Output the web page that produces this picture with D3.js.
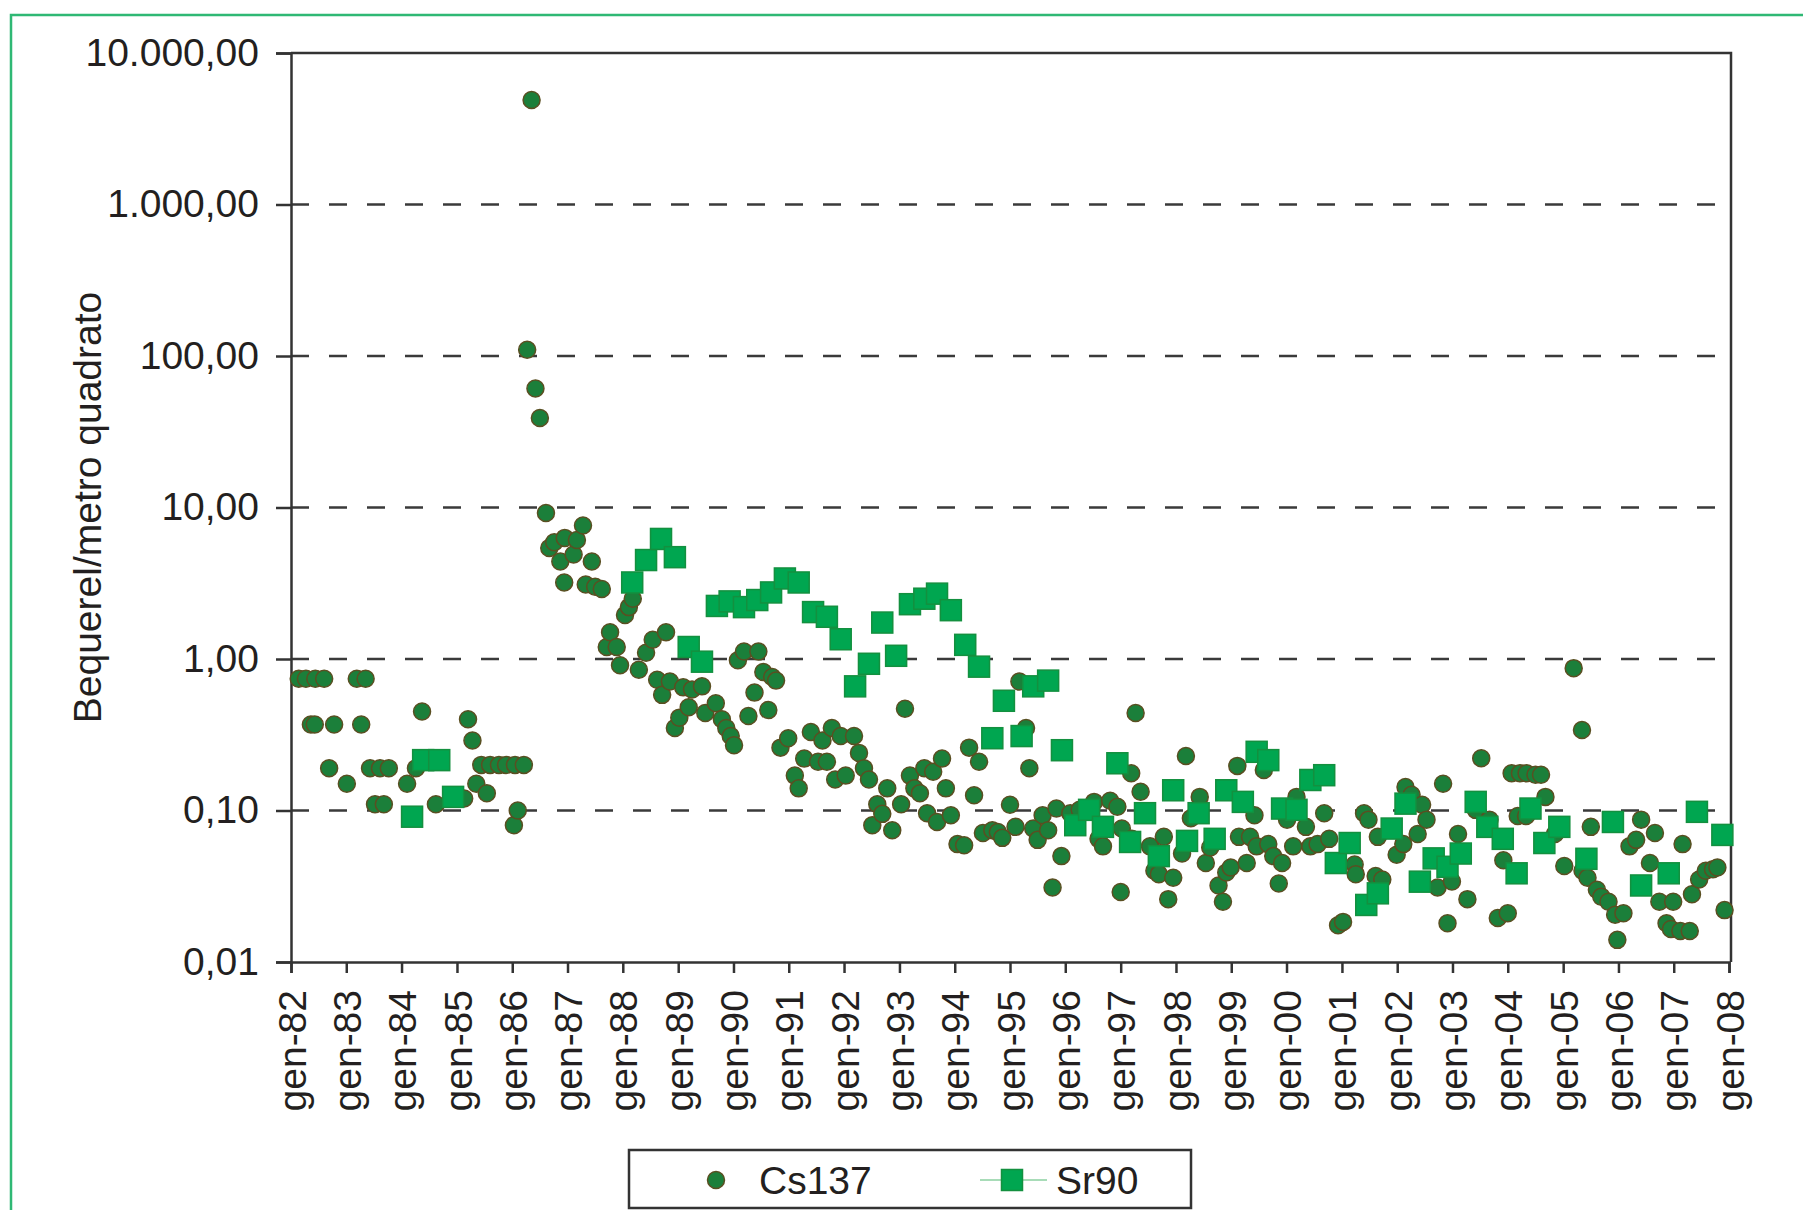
<!DOCTYPE html>
<html>
<head>
<meta charset="utf-8">
<script src="https://cdn.jsdelivr.net/npm/d3@7"></script>
<style>
  html, body { margin: 0; padding: 0; background: #fff; }
  svg { display: block; font-family: "Liberation Sans", Arial, Helvetica, sans-serif; }
  .tick text { fill: #231f20; }
</style>
</head>
<body>
<svg id="chart" width="1803" height="1210"></svg>
<script>
// --- data (decimal year, Bq/m2)
const cs137 = [
  [1982.14, 0.74], [1982.27, 0.74], [1982.44, 0.74], [1982.60, 0.74], [1983.19, 0.74], [1983.35, 0.74],
  [1982.36, 0.37], [1982.43, 0.37], [1982.78, 0.37], [1983.27, 0.37],
  [1982.69, 0.19], [1983.43, 0.19], [1983.61, 0.19], [1983.77, 0.19],
  [1983.01, 0.15], [1983.52, 0.11], [1983.68, 0.11],
  [1984.10, 0.15], [1984.26, 0.19], [1984.37, 0.45], [1984.62, 0.11],
  [1985.13, 0.12], [1985.20, 0.40], [1985.28, 0.29], [1985.35, 0.15], [1985.44, 0.20], [1985.54, 0.13],
  [1985.60, 0.20], [1985.76, 0.20], [1985.89, 0.20], [1986.03, 0.08], [1986.05, 0.20], [1986.10, 0.10], [1986.21, 0.20],
  [1986.27, 110], [1986.35, 4900], [1986.42, 61], [1986.50, 39], [1986.61, 9.2],
  [1986.67, 5.4], [1986.76, 5.9], [1986.87, 4.4], [1986.94, 3.2], [1986.95, 6.3], [1987.11, 4.9],
  [1987.17, 6.1], [1987.28, 7.6], [1987.33, 3.1], [1987.44, 4.4], [1987.50, 3.0], [1987.62, 2.9],
  [1987.71, 1.2], [1987.77, 1.5], [1987.89, 1.2], [1987.95, 0.91], [1988.04, 1.95], [1988.11, 2.2],
  [1988.18, 2.5], [1988.29, 0.85], [1988.42, 1.1], [1988.54, 1.34], [1988.62, 0.73], [1988.71, 0.58],
  [1988.78, 1.5], [1988.85, 0.71], [1988.94, 0.35], [1989.02, 0.41], [1989.09, 0.65], [1989.19, 0.48],
  [1989.25, 0.63], [1989.43, 0.66], [1989.49, 0.44], [1989.68, 0.51], [1989.79, 0.40], [1989.87, 0.35],
  [1989.95, 0.31], [1990.01, 0.27], [1990.08, 0.98], [1990.19, 1.12], [1990.27, 0.42], [1990.38, 0.60],
  [1990.45, 1.12], [1990.54, 0.82], [1990.63, 0.46], [1990.70, 0.76], [1990.77, 0.72],
  [1990.85, 0.26], [1990.99, 0.30], [1991.11, 0.17], [1991.18, 0.14], [1991.28, 0.22], [1991.40, 0.33],
  [1991.53, 0.21], [1991.61, 0.29], [1991.69, 0.21], [1991.78, 0.35], [1991.84, 0.16], [1991.94, 0.31],
  [1992.03, 0.17], [1992.18, 0.31], [1992.27, 0.24], [1992.36, 0.19], [1992.45, 0.16], [1992.51, 0.080],
  [1992.60, 0.11], [1992.69, 0.095], [1992.78, 0.14], [1992.87, 0.074], [1993.03, 0.11], [1993.10, 0.47],
  [1993.19, 0.17], [1993.27, 0.14], [1993.37, 0.13], [1993.45, 0.19], [1993.50, 0.096], [1993.61, 0.18],
  [1993.68, 0.084], [1993.77, 0.22], [1993.84, 0.14], [1993.93, 0.093], [1994.05, 0.060], [1994.17, 0.059],
  [1994.26, 0.26], [1994.35, 0.126], [1994.44, 0.21], [1994.51, 0.071], [1994.68, 0.074], [1994.78, 0.072],
  [1994.86, 0.066],
  [1995.00, 0.109], [1995.10, 0.078], [1995.17, 0.71], [1995.29, 0.35], [1995.35, 0.19], [1995.42, 0.076],
  [1995.50, 0.064], [1995.59, 0.093], [1995.69, 0.074], [1995.77, 0.031], [1995.84, 0.103], [1995.93, 0.050],
  [1996.09, 0.096], [1996.26, 0.101], [1996.52, 0.114], [1996.60, 0.065], [1996.68, 0.058], [1996.81, 0.116],
  [1996.94, 0.106], [1997.00, 0.029], [1997.02, 0.076], [1997.19, 0.176], [1997.20, 0.065], [1997.27, 0.44],
  [1997.36, 0.133], [1997.53, 0.058], [1997.61, 0.040], [1997.69, 0.038], [1997.78, 0.067], [1997.86, 0.026],
  [1997.95, 0.036], [1998.11, 0.052], [1998.18, 0.229], [1998.27, 0.089], [1998.43, 0.123], [1998.54, 0.045],
  [1998.62, 0.057], [1998.77, 0.032], [1998.85, 0.025], [1998.91, 0.039], [1998.99, 0.042], [1999.11, 0.197],
  [1999.14, 0.067], [1999.28, 0.045], [1999.34, 0.067], [1999.42, 0.093], [1999.46, 0.058], [1999.59, 0.185],
  [1999.67, 0.060], [1999.76, 0.050], [1999.86, 0.033], [1999.92, 0.045], [2000.01, 0.087], [2000.12, 0.058],
  [2000.18, 0.123], [2000.35, 0.078], [2000.43, 0.058], [2000.56, 0.060], [2000.68, 0.096], [2000.77, 0.065],
  [2000.93, 0.0175], [2001.02, 0.0184], [2001.23, 0.044], [2001.25, 0.038], [2001.40, 0.096], [2001.48, 0.087],
  [2001.61, 0.037], [2001.65, 0.067], [2001.73, 0.035], [2001.99, 0.051], [2002.11, 0.060], [2002.15, 0.143],
  [2002.26, 0.127], [2002.37, 0.070], [2002.45, 0.109], [2002.53, 0.087], [2002.73, 0.031], [2002.83, 0.15],
  [2002.91, 0.018], [2002.99, 0.034], [2003.10, 0.070], [2003.27, 0.026], [2003.42, 0.101], [2003.52, 0.221],
  [2003.67, 0.087], [2003.82, 0.0195], [2003.92, 0.047], [2004.00, 0.021], [2004.07, 0.176], [2004.18, 0.092],
  [2004.22, 0.176], [2004.33, 0.092], [2004.34, 0.176], [2004.50, 0.172], [2004.60, 0.172], [2004.68, 0.123],
  [2004.85, 0.070], [2005.02, 0.043], [2005.19, 0.87], [2005.34, 0.34], [2005.35, 0.040], [2005.44, 0.036],
  [2005.50, 0.078], [2005.61, 0.030], [2005.69, 0.027], [2005.82, 0.025], [2005.94, 0.0205], [2005.98, 0.014],
  [2006.09, 0.021], [2006.20, 0.058], [2006.32, 0.064], [2006.41, 0.087], [2006.57, 0.045], [2006.66, 0.071],
  [2006.74, 0.025], [2006.87, 0.018], [2006.95, 0.0165], [2006.99, 0.025], [2007.12, 0.016], [2007.16, 0.060],
  [2007.29, 0.016], [2007.33, 0.028], [2007.46, 0.035], [2007.58, 0.040], [2007.71, 0.041], [2007.79, 0.042],
  [2007.92, 0.022]
];

const sr90 = [
  [1984.19, 0.091], [1984.39, 0.215], [1984.68, 0.215], [1984.93, 0.123],
  [1988.17, 3.2], [1988.42, 4.5], [1988.69, 6.2], [1988.94, 4.7], [1989.19, 1.2], [1989.43, 0.96],
  [1989.70, 2.24], [1989.93, 2.4], [1990.19, 2.2], [1990.43, 2.45], [1990.68, 2.75], [1990.93, 3.4],
  [1991.18, 3.2], [1991.44, 2.04], [1991.69, 1.9], [1991.94, 1.35], [1992.20, 0.66], [1992.45, 0.93],
  [1992.69, 1.74], [1992.94, 1.05], [1993.19, 2.3], [1993.45, 2.5], [1993.68, 2.7], [1993.93, 2.1],
  [1994.19, 1.24], [1994.44, 0.89], [1994.68, 0.30], [1994.89, 0.53], [1995.21, 0.31], [1995.42, 0.66],
  [1995.69, 0.72], [1995.94, 0.25], [1996.18, 0.080], [1996.43, 0.101], [1996.68, 0.078], [1996.94, 0.205],
  [1997.17, 0.062], [1997.44, 0.096], [1997.69, 0.050], [1997.95, 0.136], [1998.20, 0.063], [1998.41, 0.096],
  [1998.70, 0.065], [1998.91, 0.136], [1999.21, 0.114], [1999.46, 0.244], [1999.67, 0.215], [1999.92, 0.103],
  [2000.18, 0.101], [2000.43, 0.159], [2000.68, 0.171], [2000.89, 0.045], [2001.14, 0.061], [2001.44, 0.0238],
  [2001.65, 0.0284], [2001.90, 0.076], [2002.15, 0.111], [2002.41, 0.0339], [2002.66, 0.0483], [2002.91, 0.0425],
  [2003.15, 0.052], [2003.42, 0.114], [2003.63, 0.078], [2003.91, 0.065], [2004.16, 0.0385], [2004.41, 0.103],
  [2004.66, 0.061], [2004.93, 0.078], [2005.42, 0.048], [2005.90, 0.084], [2006.41, 0.032], [2006.91, 0.0385],
  [2007.42, 0.098], [2007.88, 0.069]
];

const yTicks = [0.01, 0.1, 1, 10, 100, 1000, 10000];
const seriesNames = ['Cs137', 'Sr90'];

// --- helpers
const toDate = y => {
  const yr = Math.floor(y);
  const a = new Date(yr, 0, 1), b = new Date(yr + 1, 0, 1);
  return new Date(+a + (y - yr) * (b - a));
};

const itTime = d3.timeFormatLocale({
  dateTime: '%A %e %B %Y, %X', date: '%d/%m/%Y', time: '%H:%M:%S', periods: ['AM', 'PM'],
  days: ['domenica', 'lunedì', 'martedì', 'mercoledì', 'giovedì', 'venerdì', 'sabato'],
  shortDays: ['dom', 'lun', 'mar', 'mer', 'gio', 'ven', 'sab'],
  months: ['gennaio', 'febbraio', 'marzo', 'aprile', 'maggio', 'giugno', 'luglio', 'agosto', 'settembre', 'ottobre', 'novembre', 'dicembre'],
  shortMonths: ['gen', 'feb', 'mar', 'apr', 'mag', 'giu', 'lug', 'ago', 'set', 'ott', 'nov', 'dic']
});
const itNum = d3.formatLocale({ decimal: ',', thousands: '.', grouping: [3], currency: ['€', ''] });

// --- layout
const svg = d3.select('#chart');
const plot = { left: 291, right: 1731, top: 53, bottom: 962 };
const FONT = 39;
const R = 8.5;   // circle radius
const SQ = 21;   // square side

const x = d3.scaleTime()
  .domain([new Date(1982, 0, 1), new Date(2008, 0, 1)])
  .range([plot.left, plot.right - 2]);

const y = d3.scaleLog()
  .domain([0.01, 10000])
  .range([plot.bottom, plot.top]);

// outer green frame
svg.append('path')
  .attr('d', `M11,1212 L11,15 L1805,15`)
  .attr('fill', 'none')
  .attr('stroke', '#2fb874')
  .attr('stroke-width', 2.5);

// gridlines
svg.append('g').selectAll('line')
  .data(yTicks.slice(1, -1))
  .enter().append('line')
  .attr('x1', plot.left).attr('x2', plot.right)
  .attr('y1', d => y(d)).attr('y2', d => y(d))
  .attr('stroke', '#3a3a3a')
  .attr('stroke-width', 2.5)
  .attr('stroke-dasharray', '18,20');

// plot border (top / right)
svg.append('path')
  .attr('d', `M${plot.left},${plot.top} L${plot.right},${plot.top} L${plot.right},${plot.bottom}`)
  .attr('fill', 'none')
  .attr('stroke', '#333')
  .attr('stroke-width', 2.5);

// y axis
const yAxis = svg.append('g')
  .attr('transform', `translate(${plot.left},0)`)
  .call(d3.axisLeft(y).tickValues(yTicks).tickSize(15).tickPadding(17).tickFormat(itNum.format(',.2f')));
yAxis.selectAll('path, line').attr('stroke', '#333').attr('stroke-width', 2.5);
yAxis.selectAll('text').attr('font-size', FONT).attr('font-family', '"Liberation Sans", Arial, sans-serif');

// x axis
const xAxis = svg.append('g')
  .attr('transform', `translate(0,${plot.bottom})`)
  .call(d3.axisBottom(x).ticks(d3.timeYear.every(1)).tickSize(11).tickFormat(itTime.format('%b-%y')));
xAxis.selectAll('path, line').attr('stroke', '#333').attr('stroke-width', 2.5);
xAxis.selectAll('text')
  .attr('font-size', FONT)
  .attr('font-family', '"Liberation Sans", Arial, sans-serif')
  .attr('transform', 'rotate(-90)')
  .attr('text-anchor', 'end')
  .attr('x', -28)
  .attr('y', 0)
  .attr('dy', '0.36em');

// y title
svg.append('text')
  .attr('transform', `translate(101,${(plot.top + plot.bottom) / 2}) rotate(-90)`)
  .attr('text-anchor', 'middle')
  .attr('font-size', FONT)
  .attr('fill', '#231f20')
  .text('Bequerel/metro quadrato');

// Cs137 circles
svg.append('g').selectAll('circle')
  .data(cs137)
  .enter().append('circle')
  .attr('cx', d => x(toDate(d[0])))
  .attr('cy', d => y(d[1]))
  .attr('r', R)
  .attr('fill', '#1b7f3a')
  .attr('stroke', '#5a4f22')
  .attr('stroke-width', 1.5);

// Sr90 squares
svg.append('g').selectAll('rect')
  .data(sr90)
  .enter().append('rect')
  .attr('x', d => x(toDate(d[0])) - SQ / 2)
  .attr('y', d => y(d[1]) - SQ / 2)
  .attr('width', SQ).attr('height', SQ)
  .attr('fill', '#00a650')
  .attr('stroke', '#13903f')
  .attr('stroke-width', 1.5);

// legend
const legend = svg.append('g');
legend.append('rect')
  .attr('x', 629).attr('y', 1150)
  .attr('width', 562).attr('height', 58)
  .attr('fill', '#fff')
  .attr('stroke', '#333')
  .attr('stroke-width', 2.5);
legend.append('circle')
  .attr('cx', 716).attr('cy', 1180).attr('r', R)
  .attr('fill', '#1b7f3a').attr('stroke', '#5a4f22').attr('stroke-width', 1.5);
legend.append('text')
  .attr('x', 759).attr('y', 1194)
  .attr('font-size', FONT).attr('fill', '#231f20')
  .text(seriesNames[0]);
legend.append('line')
  .attr('x1', 980).attr('x2', 1047).attr('y1', 1180).attr('y2', 1180)
  .attr('stroke', '#a8dcb8').attr('stroke-width', 2);
legend.append('rect')
  .attr('x', 1012 - SQ / 2).attr('y', 1180 - SQ / 2)
  .attr('width', SQ).attr('height', SQ)
  .attr('fill', '#00a650').attr('stroke', '#13903f').attr('stroke-width', 1.5);
legend.append('text')
  .attr('x', 1056).attr('y', 1194)
  .attr('font-size', FONT).attr('fill', '#231f20')
  .text(seriesNames[1]);
</script>
</body>
</html>
